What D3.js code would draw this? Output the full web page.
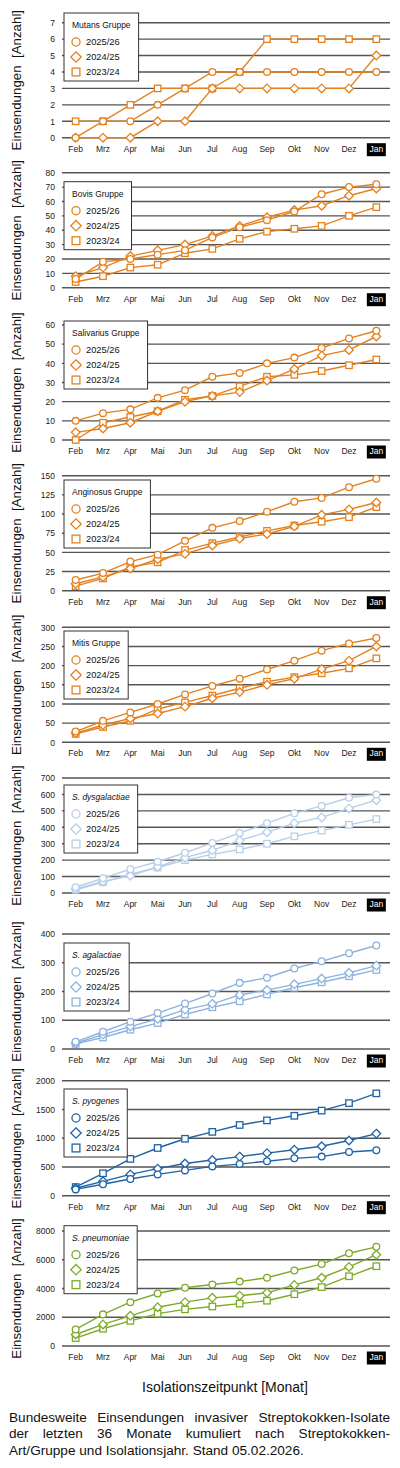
<!DOCTYPE html>
<html>
<head>
<meta charset="utf-8">
<script src="https://cdn.jsdelivr.net/npm/d3@7"></script>
<style>
  body { margin: 0; background: #fff; }
  svg { display: block; }
  text { font-family: "Liberation Sans", Arial, sans-serif; }
</style>
</head>
<body>
<div id="chart"></div>
<script>
// Monate und Saisons
const months = ["Feb", "Mrz", "Apr", "Mai", "Jun", "Jul", "Aug", "Sep", "Okt", "Nov", "Dez", "Jan"];
const seasons = ["2025/26", "2024/25", "2023/24"];

// kumulierte Einsendungen je Gruppe (Reihenfolge wie seasons)
const mutans = [
  [0, 1, 1, 2, 3, 4, 4, 4, 4, 4, 4, 4],
  [0, 0, 0, 1, 1, 3, 3, 3, 3, 3, 3, 5],
  [1, 1, 2, 3, 3, 3, 4, 6, 6, 6, 6, 6]
];
const bovis = [
  [6, 18, 20, 23, 26, 35, 42, 47, 53, 65, 70, 72],
  [8, 14, 22, 26, 30, 36, 43, 49, 54, 57, 64, 69],
  [4, 8, 14, 16, 24, 27, 34, 39, 41, 43, 50, 56]
];
const salivarius = [
  [10, 14, 16, 22, 26, 33, 35, 40, 43, 48, 53, 57],
  [4, 6, 9, 15, 20, 23, 25, 31, 37, 44, 47, 54],
  [0, 9, 12, 15, 21, 23, 28, 33, 34, 36, 39, 42]
];
const anginosus = [
  [14, 23, 38, 47, 65, 82, 91, 103, 116, 121, 135, 146],
  [9, 18, 29, 41, 48, 59, 68, 74, 84, 99, 106, 115],
  [6, 16, 31, 37, 53, 62, 70, 78, 85, 90, 96, 109]
];
const mitis = [
  [28, 56, 78, 100, 125, 147, 166, 190, 213, 239, 258, 272],
  [24, 45, 62, 75, 93, 115, 131, 150, 166, 191, 213, 250],
  [22, 40, 56, 87, 104, 122, 141, 158, 170, 180, 193, 219]
];
const dysgalactiae = [
  [35, 90, 145, 190, 245, 305, 365, 425, 485, 530, 580, 600],
  [25, 70, 105, 160, 215, 260, 320, 370, 425, 460, 515, 565],
  [20, 65, 115, 155, 200, 235, 265, 300, 345, 380, 415, 450]
];
const agalactiae = [
  [25, 60, 95, 125, 158, 193, 230, 248, 280, 305, 333, 360],
  [20, 50, 78, 105, 137, 157, 188, 205, 225, 245, 265, 290],
  [18, 40, 67, 90, 120, 145, 166, 190, 213, 232, 253, 275]
];
const pyogenes = [
  [110, 200, 290, 370, 440, 510, 550, 600, 650, 680, 760, 790],
  [130, 250, 370, 470, 560, 620, 680, 740, 800, 860, 960, 1080],
  [150, 390, 640, 830, 990, 1110, 1230, 1310, 1390, 1480, 1610, 1780]
];
const pneumoniae = [
  [1150, 2200, 3050, 3650, 4050, 4280, 4480, 4750, 5250, 5700, 6450, 6900],
  [800, 1500, 2100, 2700, 3050, 3350, 3500, 3700, 4250, 4750, 5500, 6350],
  [550, 1200, 1750, 2250, 2550, 2750, 2950, 3150, 3600, 4100, 4850, 5550]
];

const titles = ["Mutans Gruppe", "Bovis Gruppe", "Salivarius Gruppe", "Anginosus Gruppe", "Mitis Gruppe",
  "S. dysgalactiae", "S. agalactiae", "S. pyogenes", "S. pneumoniae"];
const yMax = [7, 80, 60, 150, 300, 700, 400, 2000, 8000];
const yStep = [1, 10, 10, 25, 50, 100, 100, 500, 2000];
const allData = [mutans, bovis, salivarius, anginosus, mitis, dysgalactiae, agalactiae, pyogenes, pneumoniae];

// Layout
const w = 400, h = 1468;
const orange = "#E5801E";
const colors = [orange, orange, orange, orange, orange, "#B7CEE8", "#8DB2DE", "#1F62A6", "#7DAA2B"];
const plotTops = [22.7, 172.7, 325, 475.7, 627.3, 778, 934, 1080.7, 1231];
const legendTops = [13, 181.7, 321, 480, 631, 785, 943, 1089, 1225.7];
const plotH = 115;
const xLeft = 62, xRight = 390;

const svg = d3.select("#chart").append("svg")
  .attr("width", w)
  .attr("height", h);

const xScale = d3.scaleBand().domain(months).range([xLeft, xRight]).padding(0);
const xPos = m => xScale(m) + xScale.bandwidth() / 2;

const diamond = r => `M0,${-r}L${r},0L0,${r}L${-r},0Z`;
function drawMarker(g, type, x, y, size, color) {
  if (type === 0) {
    g.append("circle").attr("cx", x).attr("cy", y).attr("r", size * 0.78)
      .attr("fill", "#fff").attr("stroke", color).attr("stroke-width", 1.3);
  } else if (type === 1) {
    g.append("path").attr("d", diamond(size)).attr("transform", `translate(${x},${y})`)
      .attr("fill", "#fff").attr("stroke", color).attr("stroke-width", 1.3);
  } else {
    const s = size * 0.75;
    g.append("rect").attr("x", x - s).attr("y", y - s).attr("width", 2 * s).attr("height", 2 * s)
      .attr("fill", "#fff").attr("stroke", color).attr("stroke-width", 1.3);
  }
}

allData.forEach((data, p) => {
  const top = plotTops[p];
  const bottom = top + plotH;
  const color = colors[p];
  const yScale = d3.scaleLinear().domain([0, yMax[p]]).range([bottom, top]);
  const ticks = d3.range(0, yMax[p] + yStep[p] / 2, yStep[p]);
  const g = svg.append("g");

  // Gitterlinien
  g.selectAll(".grid").data(ticks).enter().append("line")
    .attr("x1", xLeft).attr("x2", xRight)
    .attr("y1", d => yScale(d)).attr("y2", d => yScale(d))
    .attr("stroke", "#555").attr("stroke-width", 1.4);

  // y-Achse
  const yAxis = d3.axisLeft(yScale).tickValues(ticks).tickSize(0).tickPadding(0)
    .tickFormat(d3.format("d"));
  const yg = g.append("g").attr("transform", `translate(${xLeft - 7},0)`).call(yAxis);
  yg.select(".domain").remove();
  yg.selectAll("text").attr("font-size", 8.5).attr("fill", "#222")
    .style("font-family", "'Liberation Sans', Arial, sans-serif");

  // x-Achse
  const xAxis = d3.axisBottom(xScale).tickSize(0).tickPadding(0);
  const xg = g.append("g").attr("transform", `translate(0,${bottom + 6})`).call(xAxis);
  xg.select(".domain").remove();
  xg.selectAll(".tick").each(function (d) {
    if (d === "Jan") {
      d3.select(this).insert("rect", "text")
        .attr("x", -9.5).attr("y", -0.5).attr("width", 19).attr("height", 13).attr("fill", "#000");
    }
  });
  xg.selectAll("text").attr("font-size", 8.5).attr("dy", "0.95em")
    .attr("fill", d => d === "Jan" ? "#fff" : "#222")
    .style("font-family", "'Liberation Sans', Arial, sans-serif");

  // y-Titel
  g.append("text")
    .attr("transform", `translate(16,${(top + bottom) / 2}) rotate(-90)`)
    .attr("text-anchor", "middle").attr("dy", "0.35em")
    .attr("font-size", 13.3).attr("fill", "#111")
    .attr("xml:space", "preserve")
    .text("Einsendungen  [Anzahl]");

  // Linien + Marker (älteste zuerst)
  const line = d3.line().x((d, i) => xPos(months[i])).y(d => yScale(d));
  [2, 1, 0].forEach(s => {
    g.append("path").datum(data[s]).attr("d", line)
      .attr("fill", "none").attr("stroke", color).attr("stroke-width", 1.4);
  });
  [2, 1, 0].forEach(s => {
    data[s].forEach((v, i) => drawMarker(g, s, xPos(months[i]), yScale(v), 4.3, color));
  });

  // Legende
  const lt = legendTops[p];
  const lg = svg.append("g");
  const italic = titles[p].startsWith("S. ");
  const tt = lg.append("text").attr("x", 72).attr("y", lt + 15)
    .attr("font-size", 8.5).attr("fill", "#111")
    .attr("font-style", italic ? "italic" : "normal")
    .text(titles[p]);
  const tw = tt.node().getComputedTextLength();
  const bw = Math.max(tw + 16, 57);
  lg.insert("rect", "text").attr("x", 64).attr("y", lt).attr("width", bw).attr("height", 68)
    .attr("fill", "#fff").attr("stroke", "#333").attr("stroke-width", 1);
  seasons.forEach((s, i) => {
    const cy = lt + 29 + i * 15;
    drawMarker(lg, i, 76, cy, 5.2, color);
    lg.append("text").attr("x", 86).attr("y", cy).attr("dy", "0.35em")
      .attr("font-size", 9.3).attr("fill", "#111").text(s);
  });
});

// x-Titel
svg.append("text")
  .attr("x", 225).attr("y", 1392)
  .attr("text-anchor", "middle").attr("font-size", 14).attr("fill", "#111")
  .text("Isolationszeitpunkt [Monat]");

// Bildunterschrift (Blocksatz)
const captionLines = [
  "Bundesweite Einsendungen invasiver Streptokokken-Isolate",
  "der letzten 36 Monate kumuliert nach Streptokokken-",
  "Art/Gruppe und Isolationsjahr. Stand 05.02.2026."
];
const capLeft = 9, capRight = 390;
captionLines.forEach((ln, li) => {
  const y = 1421.5 + li * 16.7;
  const words = ln.split(" ");
  const nodes = words.map(wd => svg.append("text").attr("y", y).attr("font-size", 13.6)
    .attr("fill", "#111").text(wd));
  const widths = nodes.map(n => n.node().getComputedTextLength());
  const total = d3.sum(widths);
  const justify = li < captionLines.length - 1;
  const gap = justify ? (capRight - capLeft - total) / (words.length - 1) : 13.6 * 0.278;
  let x = capLeft;
  nodes.forEach((n, i) => { n.attr("x", x); x += widths[i] + gap; });
});
</script>
</body>
</html>
